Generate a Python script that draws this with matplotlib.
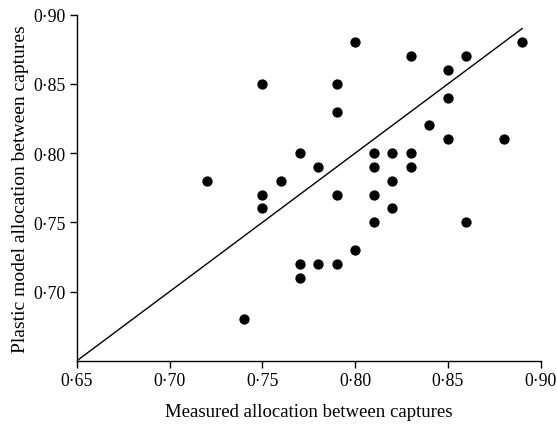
import matplotlib
matplotlib.use("Agg")
import matplotlib.pyplot as plt
from matplotlib.ticker import FuncFormatter

measured = [0.72, 0.74, 0.75, 0.75, 0.75, 0.76, 0.77, 0.77, 0.77, 0.78, 0.78,
            0.79, 0.79, 0.79, 0.79, 0.80, 0.80, 0.81, 0.81, 0.81, 0.81,
            0.82, 0.82, 0.82, 0.83, 0.83, 0.83, 0.84, 0.85, 0.85, 0.85,
            0.86, 0.86, 0.88, 0.89]
plastic = [0.78, 0.68, 0.85, 0.77, 0.76, 0.78, 0.80, 0.72, 0.71, 0.79, 0.72,
           0.85, 0.83, 0.77, 0.72, 0.88, 0.73, 0.80, 0.79, 0.77, 0.75,
           0.80, 0.78, 0.76, 0.87, 0.80, 0.79, 0.82, 0.86, 0.84, 0.81,
           0.87, 0.75, 0.81, 0.88]
line_x = [0.65, 0.89]
line_y = [0.65, 0.89]
ticks = [0.65, 0.70, 0.75, 0.80, 0.85, 0.90]
yticks = [0.70, 0.75, 0.80, 0.85, 0.90]

plt.rcParams['font.family'] = ['Liberation Serif', 'DejaVu Serif']

fig = plt.figure(figsize=(5.57, 4.27), dpi=100)
ax = fig.add_axes([0.1382, 0.1529, 0.9707 - 0.1382, 0.9632 - 0.1529])

ax.plot(line_x, line_y, color='black', linewidth=1.0)
ax.scatter(measured, plastic, s=55, color='black', zorder=3, linewidths=0)

ax.set_xlim(0.65, 0.90)
ax.set_ylim(0.65, 0.90)
ax.set_xticks(ticks)
ax.set_yticks(yticks)
fmt = FuncFormatter(lambda v, p: f"{v:.2f}".replace('.', '\u00b7'))
ax.xaxis.set_major_formatter(fmt)
ax.yaxis.set_major_formatter(fmt)
ax.tick_params(direction='out', length=5, width=1, labelsize=12.8, pad=3)
for s in ['top', 'right']:
    ax.spines[s].set_visible(False)
for s in ['left', 'bottom']:
    ax.spines[s].set_linewidth(1.0)

ax.set_xlabel('Measured allocation between captures', fontsize=13.5, labelpad=10)
ax.set_ylabel('Plastic model allocation between captures', fontsize=14, labelpad=3)

fig.savefig('out.png', dpi=100)
